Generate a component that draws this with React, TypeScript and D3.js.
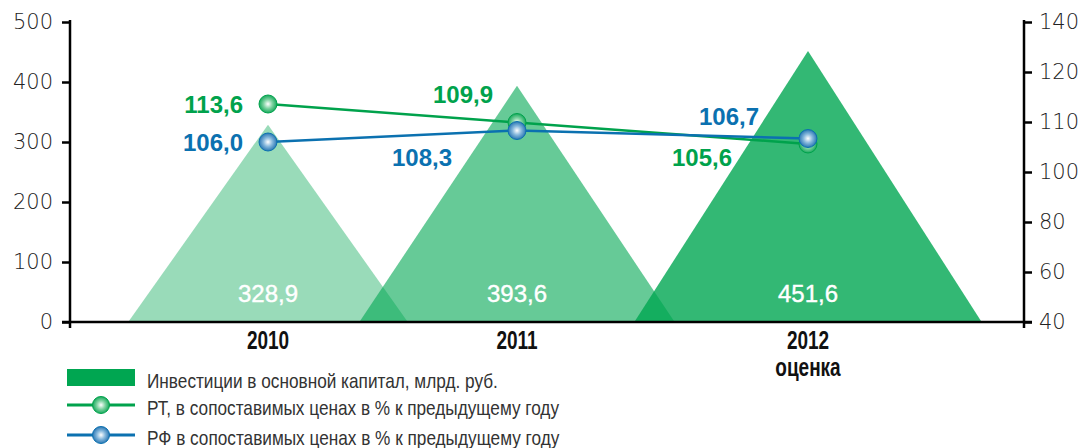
import React, { useEffect, useRef } from 'react'
import * as d3 from 'd3'

// chart data
const years = ['2010', '2011', '2012']
const yearNotes = ['', '', 'оценка']
const investments = [328.9, 393.6, 451.6]
const rtGrowth = [113.6, 109.9, 105.6]
const rfGrowth = [106.0, 108.3, 106.7]
const leftTicks = [0, 100, 200, 300, 400, 500]
const rightTicks = [40, 60, 80, 100, 110, 120, 140]
const legendLabels = [
    'Инвестиции в основной капитал, млрд. руб.',
    'РТ, в сопоставимых ценах в % к предыдущему году',
    'РФ в сопоставимых ценах в % к предыдущему году'
]

// label placement relative to the point (layout only)
const rtLabelOffsets = [[-25, 0], [-24, -28], [-76, 13]]
const rfLabelOffsets = [[-25, 0], [-65, 27], [-49, -22]]
const triangleOpacity = [0.4, 0.6, 0.8]

const fmt = (v: number) => v.toFixed(1).replace('.', ',')

function App() {
    const ref = useRef<SVGSVGElement>(null)

    useEffect(() => {
        const width = 1081, height = 448
        const base = 322, top = 22
        const green = '#00a651', blue = '#0b71b0'

        const svg = d3.select(ref.current)
        svg.selectAll('*').remove()
        svg.attr('width', width).attr('height', height)

        const defs = svg.append('defs')
        const grad = (id: string, edge: string, mid: string) => {
            const g = defs.append('radialGradient').attr('id', id)
                .attr('cx', '50%').attr('cy', '50%').attr('r', '55%')
                .attr('fx', '50%').attr('fy', '50%')
            g.append('stop').attr('offset', '0%').attr('stop-color', '#ffffff')
            g.append('stop').attr('offset', '45%').attr('stop-color', mid)
            g.append('stop').attr('offset', '100%').attr('stop-color', edge)
        }
        grad('gGreen', '#00a04c', '#7fd3a2')
        grad('gBlue', '#1769ab', '#86b8dc')

        const yLeft = d3.scaleLinear().domain([0, 500]).range([base, top])
        const yRight = d3.scaleLinear()
            .domain(rightTicks)
            .range(rightTicks.map((d, i) => base - i * ((base - top) / (rightTicks.length - 1))))
        const x = d3.scaleLinear().domain([0, 1, 2]).range([268, 517, 808])
        const halfW = d3.scaleLinear().domain([0, 500]).range([49, 187])

        // triangles
        svg.append('g').selectAll('path')
            .data(investments)
            .enter()
            .append('path')
            .attr('d', (d, i) => {
                const cx = x(i), w = halfW(d)
                return `M${cx - w},${base}L${cx},${yLeft(d)}L${cx + w},${base}Z`
            })
            .attr('fill', green)
            .attr('fill-opacity', (d, i) => triangleOpacity[i])

        svg.append('g').selectAll('text')
            .data(investments)
            .enter()
            .append('text')
            .attr('x', (d, i) => x(i))
            .attr('y', 302)
            .attr('text-anchor', 'middle')
            .attr('fill', '#ffffff')
            .attr('stroke', '#ffffff')
            .attr('stroke-width', 0.4)
            .style('font-family', '"Liberation Sans", Arial, sans-serif')
            .style('font-size', '24px')
            .text(d => fmt(d))

        // axes
        const tickFont = (sel: any) => sel
            .style('font-family', '"DejaVu Sans", sans-serif')
            .style('font-weight', '200')
            .style('font-size', '21px')
            .attr('fill', '#222222')

        const leftAxis = svg.append('g').attr('transform', 'translate(70,0)')
            .call(d3.axisLeft(yLeft).tickValues(leftTicks).tickSize(8).tickSizeOuter(0).tickPadding(9))
        leftAxis.select('.domain').remove()
        leftAxis.selectAll('line').attr('stroke', '#000').attr('stroke-width', 2.5)
        tickFont(leftAxis.selectAll('text'))
        leftAxis.attr('font-size', null).attr('font-family', null)

        const rightAxis = svg.append('g').attr('transform', 'translate(1024,0)')
            .call(d3.axisRight(yRight).tickValues(rightTicks).tickSize(8).tickSizeOuter(0).tickPadding(7))
        rightAxis.select('.domain').remove()
        rightAxis.selectAll('line').attr('stroke', '#000').attr('stroke-width', 2.5)
        tickFont(rightAxis.selectAll('text'))
        rightAxis.attr('font-size', null).attr('font-family', null)

        const axisLines = svg.append('g').attr('stroke', '#000').attr('stroke-width', 2.5)
        axisLines.append('line').attr('x1', 70).attr('x2', 70).attr('y1', top - 2).attr('y2', base + 6)
        axisLines.append('line').attr('x1', 1024).attr('x2', 1024).attr('y1', top - 2).attr('y2', base + 6)
        axisLines.append('line').attr('x1', 62).attr('x2', 1032).attr('y1', base).attr('y2', base)

        // year labels (condensed look via horizontal scale)
        const yearFont = (sel: any, y: number) => sel
            .attr('transform', (d: string, i: number) => `translate(${x(i)},${y}) scale(0.76,1)`)
            .attr('text-anchor', 'middle')
            .attr('fill', '#111')
            .style('font-family', '"Liberation Sans", Arial, sans-serif')
            .style('font-weight', 'bold')
            .style('font-size', '25px')
        yearFont(svg.append('g').selectAll('text').data(years).enter().append('text').text(d => d), 349)
        yearFont(svg.append('g').selectAll('text').data(yearNotes).enter().append('text').text(d => d), 376)

        // lines
        const drawSeries = (values: number[], color: string, gradId: string, offsets: number[][]) => {
            const line = d3.line<number>().x((d, i) => x(i)).y(d => yRight(d))
            svg.append('path').datum(values)
                .attr('d', line)
                .attr('fill', 'none')
                .attr('stroke', color)
                .attr('stroke-width', 2.5)
            svg.append('g').selectAll('circle').data(values).enter().append('circle')
                .attr('cx', (d, i) => x(i))
                .attr('cy', d => yRight(d))
                .attr('r', 9)
                .attr('fill', `url(#${gradId})`)
                .attr('stroke', color)
                .attr('stroke-width', 1)
            svg.append('g').selectAll('text').data(values).enter().append('text')
                .attr('x', (d, i) => x(i) + offsets[i][0])
                .attr('y', (d, i) => yRight(d) + offsets[i][1])
                .attr('dy', '0.36em')
                .attr('text-anchor', 'end')
                .attr('fill', color)
                .style('font-family', '"Liberation Sans", Arial, sans-serif')
                .style('font-weight', 'bold')
                .style('font-size', '24px')
                .text(d => fmt(d))
        }
        drawSeries(rtGrowth, '#00a24c', 'gGreen', rtLabelOffsets)
        drawSeries(rfGrowth, blue, 'gBlue', rfLabelOffsets)

        // legend
        const legendY = [378, 405, 435]
        const legend = svg.append('g')
        legend.append('rect').attr('x', 67).attr('y', legendY[0] - 9).attr('width', 68).attr('height', 17).attr('fill', green)
        const markers: [string, string][] = [['#00a24c', 'gGreen'], [blue, 'gBlue']]
        markers.forEach(([c, g], i) => {
            const ly = legendY[i + 1]
            legend.append('line').attr('x1', 67).attr('x2', 135).attr('y1', ly).attr('y2', ly)
                .attr('stroke', c).attr('stroke-width', 3)
            legend.append('circle').attr('cx', 101).attr('cy', ly).attr('r', 8.5)
                .attr('fill', `url(#${g})`).attr('stroke', c).attr('stroke-width', 1)
        })
        legend.selectAll('text').data(legendLabels).enter().append('text')
            .attr('transform', (d, i) => `translate(147,${legendY[i] + 2}) scale(0.82,1)`)
            .attr('dy', '0.36em')
            .attr('fill', '#333')
            .style('font-family', '"Liberation Sans", Arial, sans-serif')
            .style('font-size', '21px')
            .text(d => d)
    }, [])

    return (
        <div>
            <svg ref={ref} style={{ position: 'absolute', left: 0, top: 0 }}></svg>
        </div>
    )
}

export default App
